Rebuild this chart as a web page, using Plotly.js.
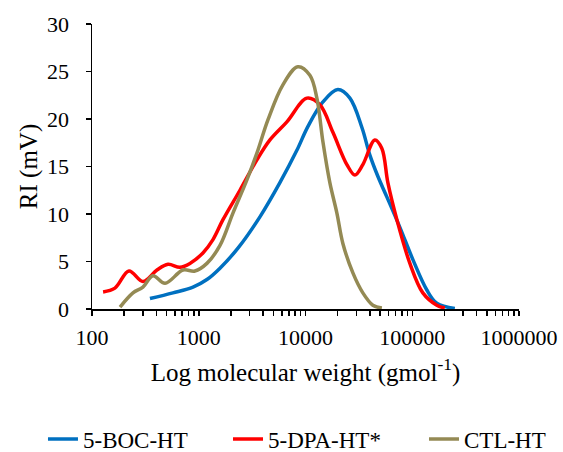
<!DOCTYPE html>
<html>
<head>
<meta charset="utf-8">
<script src="https://cdn.plot.ly/plotly-3.0.1.min.js"></script>
<style>
html,body{margin:0;padding:0;background:#fff;}
#chart{width:563px;height:452px;}
#chart text{font-family:'Liberation Serif','Times New Roman',serif !important;}
</style>
</head>
<body>
<div id="chart"></div>
<script>
// Data
const bocMW = [349, 573, 883, 1193, 1581, 2329, 3741, 5757, 8299, 10520, 14560, 20100, 26060, 33760, 40090, 47500, 57810, 76560, 101400, 137000, 169900, 250500];
const bocRI = [1.1, 1.7, 2.3, 3.1, 4.3, 6.4, 9.7, 13.3, 16.7, 19.2, 21.8, 23.1, 22.2, 19.1, 16.2, 14.0, 11.8, 8.6, 5.2, 2.0, 0.6, 0.05];

const dpaMW = [127, 164, 222, 300, 406, 515, 667, 827, 1094, 1359, 1686, 2432, 3506, 4645, 6695, 10310, 13650, 18060, 24420, 29040, 34450, 44640, 51930, 59110, 71780, 95060, 125700, 169900, 201800];
const dpaRI = [1.8, 2.2, 4.0, 2.9, 4.1, 4.7, 4.4, 4.8, 5.9, 7.3, 9.4, 12.5, 15.7, 17.8, 19.7, 22.2, 21.5, 18.6, 15.2, 14.1, 15.2, 17.8, 16.9, 13.3, 9.4, 4.8, 1.7, 0.4, 0.1];

const ctlMW = [183, 242, 300, 372, 483, 711, 921, 1193, 1581, 2091, 2826, 3506, 4446, 6141, 8486, 10990, 12780, 14560, 16910, 19680, 22390, 27800, 34450, 42750, 51930];
const ctlRI = [0.2, 1.7, 2.3, 3.5, 2.7, 4.1, 4.0, 4.8, 6.7, 10.1, 13.6, 16.4, 19.9, 23.6, 25.5, 24.6, 22.2, 17.6, 13.3, 10.1, 6.9, 3.8, 1.7, 0.4, 0.1];

const seriesNames = ['5-BOC-HT', '5-DPA-HT*', 'CTL-HT'];
const xTickVals = [100, 1000, 10000, 100000, 1000000];
const xTickText = ['100', '1000', '10000', '100000', '1000000'];
const yTickVals = [0, 5, 10, 15, 20, 25, 30];

const FONT = 'Liberation Serif';

const mk = (x, y, name, color, leg) => ({
  x: x, y: y, name: name, type: 'scatter', mode: 'lines',
  line: {color: color, width: 3.5, shape: 'spline', smoothing: 1},
  hoverinfo: 'skip', legend: leg
});

const data = [
  mk(bocMW, bocRI, seriesNames[0], '#0070C0', 'legend'),
  mk(dpaMW, dpaRI, seriesNames[1], '#FF0000', 'legend2'),
  mk(ctlMW, ctlRI, seriesNames[2], '#948A54', 'legend3')
];

const legBase = (xp) => ({
  orientation: 'h', xref: 'paper', yref: 'paper',
  x: xp, xanchor: 'left', y: -0.456, yanchor: 'middle',
  bgcolor: 'rgba(0,0,0,0)', borderwidth: 0,
  font: {family: FONT, size: 23, color: '#000'}
});

const layout = {
  width: 563, height: 452,
  margin: {l: 92, r: 44, t: 24, b: 143, autoexpand: false},
  paper_bgcolor: '#fff', plot_bgcolor: '#fff',
  font: {family: FONT, color: '#000', size: 22},
  showlegend: true,
  legend: legBase(-0.1148),
  legend2: legBase(0.3185),
  legend3: legBase(0.7775),
  xaxis: {
    type: 'log', range: [2, 6],
    tickvals: xTickVals, ticktext: xTickText,
    ticks: 'outside', ticklen: 5, tickwidth: 1.5, tickcolor: '#000',
    minor: {ticks: 'outside', ticklen: 5, tickwidth: 1.5, tickcolor: '#000', dtick: 'D1', showgrid: false},
    showline: true, linecolor: '#000', linewidth: 1.5,
    showgrid: false, zeroline: false, automargin: false,
    tickfont: {family: FONT, size: 22, color: '#000'},
    ticklabelstandoff: 3,
    title: {text: 'Log molecular weight (gmol<sup>-1</sup>)', font: {family: FONT, size: 25, color: '#000'}, standoff: 14},
    fixedrange: true
  },
  yaxis: {
    range: [0, 30], tickvals: yTickVals,
    ticks: 'outside', ticklen: 5, tickwidth: 1.5, tickcolor: '#000',
    showline: true, linecolor: '#000', linewidth: 1.5,
    showgrid: false, zeroline: false, automargin: false,
    tickfont: {family: FONT, size: 22, color: '#000'},
    ticklabelstandoff: 12,
    title: {text: 'RI (mV)', font: {family: FONT, size: 25, color: '#000'}, standoff: 2},
    fixedrange: true
  }
};

Plotly.newPlot('chart', data, layout, {staticPlot: true, displayModeBar: false});
</script>
</body>
</html>
